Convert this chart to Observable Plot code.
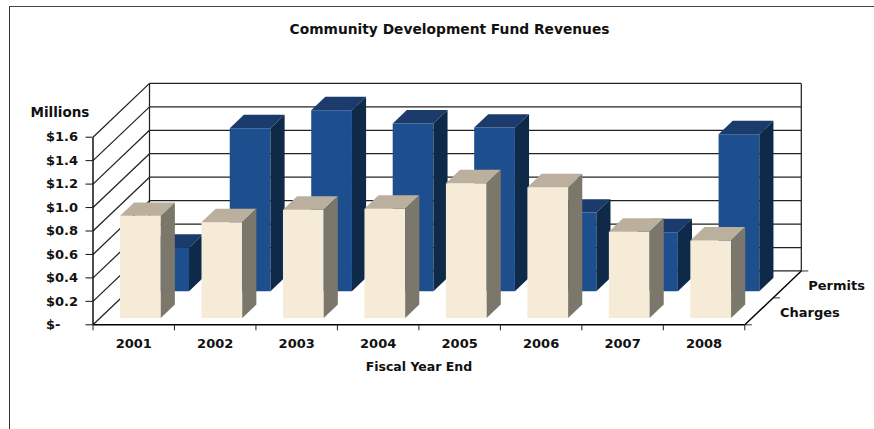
<!DOCTYPE html>
<html>
<head>
<meta charset="utf-8">
<script src="https://cdn.jsdelivr.net/npm/d3@7"></script>
<script src="https://cdn.jsdelivr.net/npm/@observablehq/plot@0.6"></script>
<style>
  html, body { margin: 0; padding: 0; background: #fff; overflow: hidden; }
  #chart { position: relative; width: 874px; height: 429px; }
  #chart svg { display: block; position: absolute; left: 0; top: 0; background: transparent; }
  #edge { position: absolute; left: 8.5px; top: 6px; right: -4px; bottom: -4px;
          border-left: 1.5px solid #333; border-top: 1.5px solid #444; }
</style>
</head>
<body>
<div id="chart"><div id="edge"></div></div>
<script>
// Revenue in $ millions by fiscal year end
const years = ["2001", "2002", "2003", "2004", "2005", "2006", "2007", "2008"];
const charges = [0.872, 0.818, 0.924, 0.932, 1.15, 1.116, 0.736, 0.662];
const permits = [0.37, 1.39, 1.544, 1.43, 1.395, 0.67, 0.503, 1.339];
const valueTicks = [0, 0.2, 0.4, 0.6, 0.8, 1.0, 1.2, 1.4, 1.6];
const seriesNames = ["Charges", "Permits"];

// Oblique projection: a point one full step deep shifts by these many axis units
const depthX = 0.6935;
const depthY = 0.459;
const project = (cat, value, depth) => ({x: cat + depth * depthX, y: value + depth * depthY});

// Bars fill the middle half of their category and of their row
const barInset = 0.245;
const barDepth = 0.25;
const rowStart = 0.125;

function faces(values, row) {
  const d0 = row * 0.5 + rowStart;
  const d1 = d0 + barDepth;
  const front = [], top = [], side = [];
  values.forEach((v, i) => {
    const a = i + barInset, b = i + 1 - barInset - 0.01;
    const add = (list, pts) => pts.forEach(([c, val, d]) => list.push({id: i, ...project(c, val, d)}));
    add(front, [[a, 0, d0], [b, 0, d0], [b, v, d0], [a, v, d0]]);
    add(top, [[a, v, d0], [b, v, d0], [b, v, d1], [a, v, d1]]);
    add(side, [[b, 0, d0], [b, 0, d1], [b, v, d1], [b, v, d0]]);
  });
  return {front, top, side};
}

const face = (pts, fill) => Plot.line(pts, {x: "x", y: "y", z: "id", fill, stroke: null});

function link(a, b) {
  return {x1: a.x, y1: a.y, x2: b.x, y2: b.y};
}

// Back wall, left wall and floor outlines
const n = years.length;
const wallLines = [
  ...valueTicks.map(v => link(project(0, v, 1), project(n, v, 1))),
  ...valueTicks.map(v => link(project(0, v, 0), project(0, v, 1))),
  link(project(0, 0, 1), project(0, 1.6, 1)),
  link(project(n, 0, 1), project(n, 1.6, 1))
];
const baseLines = [
  link(project(0, 0, 0), project(0, 1.6, 0)),
  link(project(0, 0, 0), project(n, 0, 0)),
  link(project(n, 0, 0), project(n, 0, 1))
];
const depthTickLength = 7 / 81.5;
const depthTicks = [0, 0.5, 1].map(d => link(project(n, 0, d), project(n + depthTickLength, 0, d)));

const permitFaces = faces(permits, 1);
const chargeFaces = faces(charges, 0);

const blue = {front: "#1d4f8f", top: "#1b3b6c", side: "#0f2a49"};
const cream = {front: "#f6ebd6", top: "#bbb09e", side: "#7b776b"};

const fontBold = {fontWeight: "bold", fill: "#111"};
const linkXY = {x1: "x1", y1: "y1", x2: "x2", y2: "y2"};

const chart = Plot.plot({
  width: 874,
  height: 429,
  marginLeft: 92.5,
  marginRight: 129.7,
  marginTop: 136.7,
  marginBottom: 104.7,
  style: {fontFamily: "'DejaVu Sans', sans-serif", background: "transparent"},
  x: {domain: [0, n], label: null},
  y: {domain: [0, 1.6], label: null},
  marks: [
    Plot.link(wallLines, {...linkXY, stroke: "#222", strokeWidth: 1.25}),
    Plot.link(depthTicks, {...linkXY, stroke: "#333", strokeWidth: 1}),
    Plot.link(baseLines, {...linkXY, stroke: "#000", strokeWidth: 1.4}),

    face(permitFaces.front, blue.front),
    face(permitFaces.top, blue.top),
    face(permitFaces.side, blue.side),
    face(chargeFaces.front, cream.front),
    face(chargeFaces.top, cream.top),
    face(chargeFaces.side, cream.side),

    Plot.axisY({
      ticks: valueTicks,
      tickSize: 7,
      tickPadding: 40,
      textAnchor: "start",
      tickFormat: v => v === 0 ? "$-" : "$" + v.toFixed(1),
      fontSize: 13,
      fontWeight: "bold",
      label: null,
      color: "#111"
    }),
    Plot.axisX({
      ticks: d3.range(n + 1),
      tickSize: 6,
      tickFormat: () => "",
      label: null,
      color: "#222"
    }),
    Plot.axisX({
      ticks: years.map((_, i) => i + 0.5),
      tickSize: 0,
      tickPadding: 13.5,
      tickFormat: v => years[v - 0.5],
      fontSize: 13,
      fontWeight: "bold",
      label: null,
      color: "#111"
    }),

    Plot.text(seriesNames, {
      x: (_, i) => project(n, 0, i * 0.5 + 0.25).x,
      y: (_, i) => project(n, 0, i * 0.5 + 0.25).y,
      text: d => d,
      textAnchor: "start",
      dx: 21,
      dy: 1,
      fontSize: 13,
      ...fontBold
    }),
    Plot.text(["Millions"], {frameAnchor: "top-left", textAnchor: "start", lineAnchor: "middle", dx: -62.5, dy: -25, fontSize: 13.5, ...fontBold}),
    Plot.text(["Fiscal Year End"], {frameAnchor: "bottom", lineAnchor: "middle", dy: 42, fontSize: 12.5, ...fontBold}),
    Plot.text(["Community Development Fund Revenues"], {frameAnchor: "top", lineAnchor: "middle", dx: 30.6, dy: -107.7, fontSize: 13.8, ...fontBold})
  ]
});

document.getElementById("chart").appendChild(chart);
</script>
</body>
</html>
